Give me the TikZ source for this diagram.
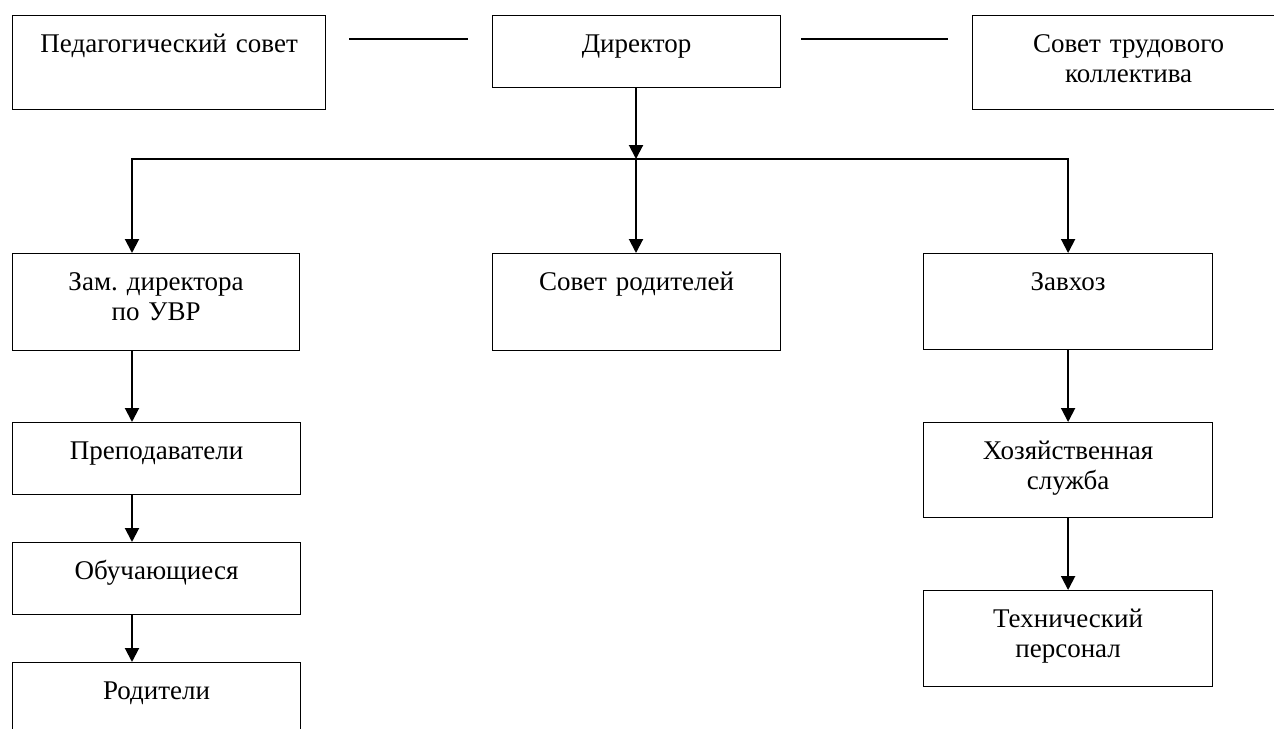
\documentclass[tikz,border=0pt]{standalone}
\usepackage{fontspec}
\setmainfont{Liberation Serif}
\usepackage{tikz}
\usetikzlibrary{positioning,calc,arrows.meta}
\frenchspacing

\begin{document}
\begin{tikzpicture}[x=0.5pt, y=-0.5pt,
        unit/.style={draw, line width=0.6pt, inner sep=0pt, anchor=north west, align=center,
            font=\fontsize{13.5}{15}\selectfont, text height=18.5pt},
        arr/.style={line width=1pt, -{Triangle[width=7pt,length=7pt]}},
        link/.style={line width=0.9pt}]
        \useasboundingbox (0,0) rectangle (1274,728);
        \clip (0,0) rectangle (1274,728);

        % Top row
        \node[unit, text width=156.5pt, text depth=28.5pt] (ped) at (12,15) {Педагогический совет};
        \node[unit, text width=144pt, text depth=17.5pt] (dir) at (492,15) {Директор};
        \node[unit, text width=156pt, text depth=28.5pt] (sovtrud) at (972,15) {Совет трудового\\коллектива};

        % Second row
        \node[unit, text width=143.5pt, text depth=30pt] (zam) at (12,253) {Зам. директора\\по УВР};
        \node[unit, text width=144pt, text depth=30pt] (sovrod) at (492,253) {Совет родителей};
        \node[unit, text width=144.5pt, text depth=29.5pt] (zavhoz) at (923,253) {Завхоз};

        % Left column
        \node[unit, text width=144pt, text depth=17.5pt] (prepod) at (12,422) {Преподаватели};
        \node[unit, text width=144pt, text depth=17.5pt] (obuch) at (12,542) {Обучающиеся};
        \node[unit, text width=144pt, text depth=28.5pt] (rodit) at (12,662) {Родители};

        % Right column
        \node[unit, text width=144.5pt, text depth=29pt] (hoz) at (923,422) {Хозяйственная\\служба};
        \node[unit, text width=144.5pt, text depth=29.5pt] (tekh) at (923,590) {Технический\\персонал};

        % Links
        \coordinate (lcol) at (132,0);
        \coordinate (bus) at (636,159);
        \draw[link] ($(ped.north east)+(23,24)$) -- ($(dir.north west)+(-24,24)$);
        \draw[link] ($(dir.north east)+(20,24)$) -- ($(sovtrud.north west)+(-24,24)$);
        \draw[arr] (dir.south -| bus) -- (bus);
        \draw[arr] (bus) -| (zam.north -| lcol);
        \draw[arr] (bus) -- (sovrod.north -| bus);
        \draw[arr] (bus) -| (zavhoz.north);
        \draw[arr] (zam.south -| lcol) -- (prepod.north -| lcol);
        \draw[arr] (prepod.south -| lcol) -- (obuch.north -| lcol);
        \draw[arr] (obuch.south -| lcol) -- (rodit.north -| lcol);
        \draw[arr] (zavhoz.south) -- (hoz.north);
        \draw[arr] (hoz.south) -- (tekh.north);
    \end{tikzpicture}
\end{document}
